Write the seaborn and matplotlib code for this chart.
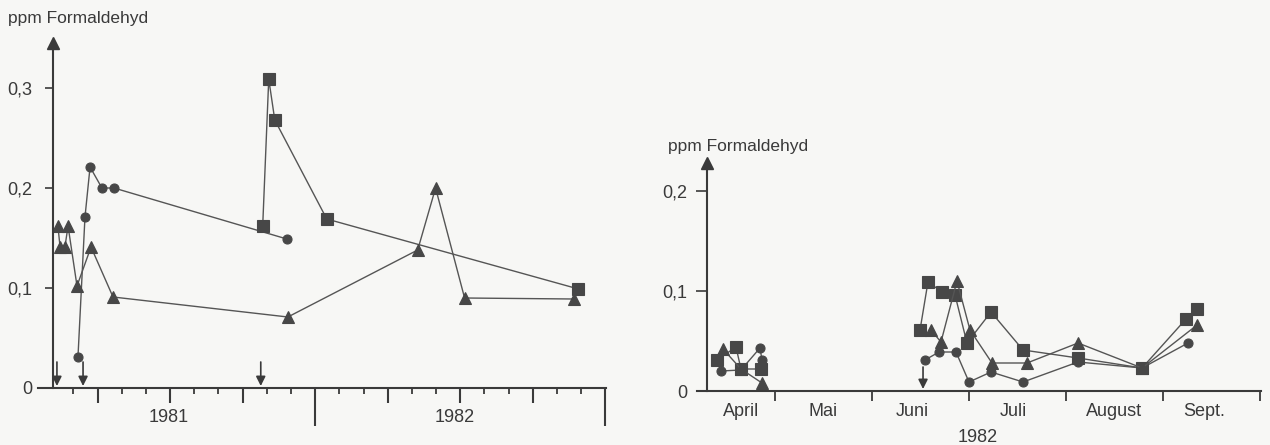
import matplotlib
matplotlib.use("Agg")
import matplotlib.pyplot as plt
import seaborn as sns
import pandas as pd

# ---- left panel: x = months counted from 1 Jan 1981 ----
left_circle_x = [2.19, 2.48, 2.69, 3.18, 3.68, 10.83]
left_circle_y = [0.031, 0.171, 0.221, 0.200, 0.200, 0.149]
left_square_x = [9.83, 10.08, 10.33, 12.48, 22.89]
left_square_y = [0.162, 0.309, 0.268, 0.169, 0.099]
left_triangle_x = [1.36, 1.45, 1.65, 1.78, 2.15, 2.73, 3.64, 10.87, 16.24, 16.98, 18.18, 22.69]
left_triangle_y = [0.162, 0.141, 0.141, 0.162, 0.102, 0.141, 0.091, 0.071, 0.138, 0.200, 0.090, 0.089]
left_arrows_x = [1.32, 2.40, 9.75]
left_years = ["1981", "1982"]
left_year_x = [5.95, 17.77]
left_yticks = [0, 0.1, 0.2, 0.3]
left_yticklabels = ["0", "0,1", "0,2", "0,3"]

# ---- right panel: x = months counted from 1 Apr 1982 ----
right_circle_apr_x = [0.443, 0.649, 0.845, 0.866]
right_circle_apr_y = [0.020, 0.021, 0.043, 0.031]
right_circle_jun_x = [2.546, 2.691, 2.866, 3.0, 3.227, 3.557, 4.124, 4.784, 5.258]
right_circle_jun_y = [0.031, 0.039, 0.039, 0.009, 0.019, 0.009, 0.029, 0.023, 0.048]
right_square_apr_x = [0.402, 0.598, 0.649, 0.856]
right_square_apr_y = [0.031, 0.044, 0.022, 0.022]
right_square_jun_x = [2.495, 2.577, 2.722, 2.856, 2.979, 3.227, 3.557, 4.124, 4.784, 5.237, 5.351]
right_square_jun_y = [0.061, 0.109, 0.099, 0.096, 0.048, 0.079, 0.041, 0.033, 0.023, 0.072, 0.082]
right_triangle_apr_x = [0.464, 0.649, 0.866]
right_triangle_apr_y = [0.042, 0.022, 0.008]
right_triangle_jun_x = [2.608, 2.711, 2.876, 3.010, 3.237, 3.598, 4.124, 4.784, 5.351]
right_triangle_jun_y = [0.061, 0.049, 0.110, 0.061, 0.028, 0.028, 0.048, 0.023, 0.066]
right_arrows_x = [2.526]
months = ["April", "Mai", "Juni", "Juli", "August", "Sept."]
month_x = [0.65, 1.5, 2.42, 3.46, 4.5, 5.42]
right_yticks = [0, 0.1, 0.2]
right_yticklabels = ["0", "0,1", "0,2"]

BG = "#f7f7f5"
INK = "#3a3a3a"
LINE = "#555555"
MARK = "#474747"


def series(*segments):
    rows = []
    for i, (xs, ys) in enumerate(segments):
        rows += [{"x": x, "y": y, "seg": i} for x, y in zip(xs, ys)]
    return pd.DataFrame(rows)


def draw(ax, df, marker, ms):
    sns.lineplot(data=df, x="x", y="y", units="seg", estimator=None, sort=False,
                 ax=ax, color=LINE, linewidth=1.0, marker=marker, markersize=ms,
                 markerfacecolor=MARK, markeredgecolor=MARK, markeredgewidth=0.8,
                 legend=False)


def style_axis(ax, spine_x, top):
    ax.set_facecolor("none")
    for side in ["top", "right"]:
        ax.spines[side].set_visible(False)
    ax.spines["left"].set_position(("data", spine_x))
    ax.spines["left"].set_bounds(0, top)
    for side in ["left", "bottom"]:
        ax.spines[side].set_linewidth(1.5)
        ax.spines[side].set_color(INK)
    ax.plot([spine_x], [top], marker="^", markersize=8, color=INK, clip_on=False)
    ax.set_xlabel("")
    ax.set_ylabel("")


def arrows(ax, xs, y0):
    for x in xs:
        ax.annotate("", xy=(x, 0.002), xytext=(x, y0),
                    arrowprops=dict(arrowstyle="-|>", color=INK, lw=1.2,
                                    mutation_scale=14, shrinkA=0, shrinkB=0))


sns.set_theme(style="white")
plt.rcParams["font.family"] = ["Liberation Sans", "DejaVu Sans"]
plt.rcParams["text.color"] = INK

fig = plt.figure(figsize=(12.7, 4.45), dpi=100, facecolor=BG)

# left panel
axL = fig.add_axes([38 / 1270, 57 / 445, 567.8 / 1270, 350 / 445])
draw(axL, series((left_circle_x, left_circle_y)), "o", 6.5)
draw(axL, series((left_square_x, left_square_y)), "s", 8)
draw(axL, series((left_triangle_x, left_triangle_y)), "^", 8.5)
axL.set_xlim(0.537, 24.02)
axL.set_ylim(0, 0.35)
style_axis(axL, 1.15, 0.345)
arrows(axL, left_arrows_x, 0.026)
axL.set_yticks(left_yticks)
axL.set_yticklabels(left_yticklabels)
axL.tick_params(axis="y", direction="out", length=6, width=1.2, pad=9,
                labelsize=13, colors=INK, left=True)
axL.set_xticks([3, 6, 9, 15, 18, 21])
axL.set_xticks([m for m in range(2, 24) if m % 3], minor=True)
axL.tick_params(axis="x", which="major", direction="out", length=11, width=1.5,
                labelbottom=False, bottom=True, colors=INK)
axL.tick_params(axis="x", which="minor", direction="out", length=4, width=1.3,
                bottom=True, colors=INK)
sec = axL.secondary_xaxis("bottom")
sec.set_xticks([12, 24])
sec.tick_params(length=27, width=1.5, labelbottom=False, colors=INK)
sec.spines["bottom"].set_visible(False)
for label, x in zip(left_years, left_year_x):
    axL.text(x, -0.030, label, ha="center", va="center", fontsize=13, clip_on=False)
fig.text(8 / 1270, 1 - 18 / 445, "ppm Formaldehyd", ha="left", va="center", fontsize=12.5)

# right panel
axR = fig.add_axes([697.4 / 1270, 54 / 445, 563.3 / 1270, 235 / 445])
draw(axR, series((right_circle_apr_x, right_circle_apr_y),
                 (right_circle_jun_x, right_circle_jun_y)), "o", 6.5)
draw(axR, series((right_square_apr_x, right_square_apr_y),
                 (right_square_jun_x, right_square_jun_y)), "s", 8)
draw(axR, series((right_triangle_apr_x, right_triangle_apr_y),
                 (right_triangle_jun_x, right_triangle_jun_y)), "^", 8.5)
axR.set_xlim(0.2, 6.007)
axR.set_ylim(0, 0.235)
style_axis(axR, 0.3, 0.228)
arrows(axR, right_arrows_x, 0.024)
axR.set_yticks(right_yticks)
axR.set_yticklabels(right_yticklabels)
axR.tick_params(axis="y", direction="out", length=8, width=1.2, pad=6,
                labelsize=13, colors=INK, left=True)
axR.set_xticks(range(1, 7))
axR.tick_params(axis="x", direction="out", length=7, width=1.3,
                labelbottom=False, bottom=True, colors=INK)
for label, x in zip(months, month_x):
    axR.text(x, -0.020, label, ha="center", va="center", fontsize=13, clip_on=False)
axR.text(3.09, -0.046, "1982", ha="center", va="center", fontsize=13, clip_on=False)
fig.text(668 / 1270, 1 - 147 / 445, "ppm Formaldehyd", ha="left", va="center", fontsize=12.5)

fig.savefig("out.png", dpi=100, facecolor=BG)
